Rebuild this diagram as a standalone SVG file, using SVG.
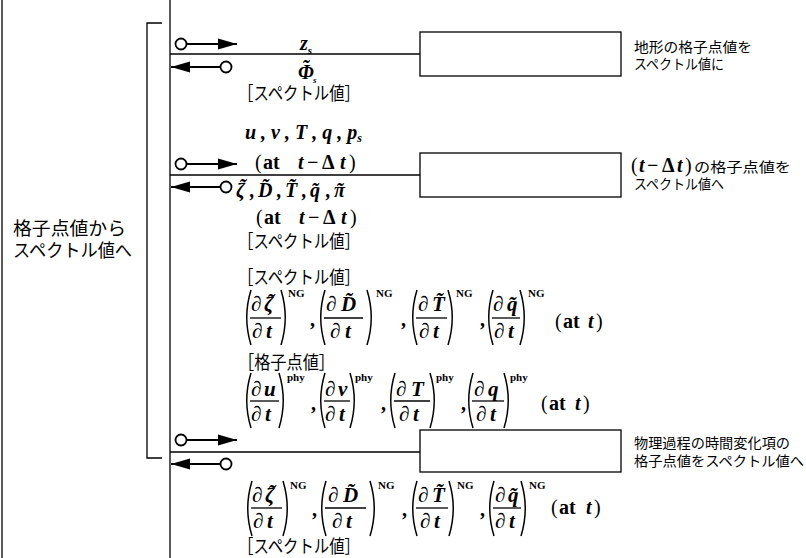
<svg xmlns="http://www.w3.org/2000/svg" width="806" height="558" viewBox="0 0 806 558">
<style>
.ln{stroke:#000;stroke-width:1.3;fill:none}
.bx{stroke:#000;stroke-width:1.3;fill:#fff}
.ar{stroke:#000;stroke-width:2;fill:none;marker-start:url(#dot);marker-end:url(#head)}
.pr{stroke:#000;stroke-width:1.5;fill:none}
.m{font-family:"Liberation Serif",serif;font-style:italic;font-weight:bold;font-size:20px}
.f{font-family:"Liberation Serif",serif;font-style:italic;font-weight:bold;font-size:21px}
.mu{font-family:"Liberation Serif",serif;font-weight:bold;font-size:20px}
.rg{font-family:"Liberation Serif",serif;font-size:20px}
.sup{font-family:"Liberation Serif",serif;font-weight:bold;font-size:11px}
.j{font-family:"Noto Sans CJK JP",sans-serif;font-size:18px}
.js{font-family:"Noto Sans CJK JP",sans-serif;font-size:14px}
</style>
<defs>
<marker id="head" markerUnits="userSpaceOnUse" markerWidth="20" markerHeight="12" refX="19" refY="6" orient="auto"><path d="M0,0.5 L19,6 L0,11.5z" fill="#000"/></marker>
<marker id="dot" markerUnits="userSpaceOnUse" markerWidth="14" markerHeight="14" refX="7" refY="7" orient="auto"><circle cx="7" cy="7" r="5.5" fill="#fff" stroke="#000" stroke-width="1.8"/></marker>
<path id="lp" d="M7,0 Q-1.5,27.5 7,55"/>
<path id="rp" d="M0,0 Q8.5,27.5 0,55"/>
</defs>
<rect width="806" height="558" fill="#fff"/>

<g id="connectors">
<line class="ln" x1="2" y1="0" x2="2" y2="558"/>
<line class="ln" x1="170" y1="0" x2="170" y2="558"/>
<path class="ln" d="M162,23 H147 V458 H162"/>
<line class="ln" x1="170" y1="54" x2="420" y2="54"/>
<line class="ln" x1="170" y1="175" x2="420" y2="175"/>
<line class="ln" x1="170" y1="452" x2="420" y2="452"/>
<path class="ar" d="M181,44 L237,44"/>
<path class="ar" d="M226,67 L171,67"/>
<path class="ar" d="M181,164 L237,164"/>
<path class="ar" d="M226,187 L171,187"/>
<path class="ar" d="M181,440 L237,440"/>
<path class="ar" d="M226,464 L171,464"/>
</g>

<g id="label-left">
<text class="j" x="13" y="235" textLength="113" lengthAdjust="spacingAndGlyphs">格子点値から</text>
<text class="j" x="13" y="257" textLength="119" lengthAdjust="spacingAndGlyphs">スペクトル値へ</text>
</g>

<g id="node-topo">
<rect class="bx" x="420" y="32" width="201" height="44"/>
<text class="js" x="634" y="52" textLength="118" lengthAdjust="spacingAndGlyphs">地形の格子点値を</text>
<text class="js" x="634" y="69" textLength="90" lengthAdjust="spacingAndGlyphs">スペクトル値に</text>
</g>

<g id="node-prev">
<rect class="bx" x="420" y="153" width="201" height="44"/>
<text y="172"><tspan class="rg" x="631" font-size="22">(</tspan><tspan class="m" x="639" font-size="22">t</tspan><tspan class="mu" x="647" font-size="22">−</tspan><tspan class="mu" x="662" font-size="22">Δ</tspan><tspan class="m" x="677" font-size="22">t</tspan><tspan class="rg" x="685" font-size="22">)</tspan><tspan class="js" x="694" textLength="97" lengthAdjust="spacingAndGlyphs">の格子点値を</tspan></text>
<text class="js" x="634" y="189" textLength="90" lengthAdjust="spacingAndGlyphs">スペクトル値へ</text>
</g>

<g id="node-phy">
<rect class="bx" x="420" y="430" width="201" height="42"/>
<text class="js" x="634" y="448" textLength="156" lengthAdjust="spacingAndGlyphs">物理過程の時間変化項の</text>
<text class="js" x="634" y="466" textLength="170" lengthAdjust="spacingAndGlyphs">格子点値をスペクトル値へ</text>
</g>

<g id="labels-1">
<text class="m" x="300" y="50">z<tspan font-size="11" dy="4">s</tspan></text>
<text class="m" y="79"><tspan x="298">Φ</tspan><tspan x="302" dy="-5">˜</tspan><tspan x="313" dy="9" font-size="9">s</tspan></text>
<text class="j" x="238" y="100" textLength="122" lengthAdjust="spacingAndGlyphs">［スペクトル値］</text>
</g>

<g id="labels-2">
<text class="m" x="245" y="139">u , v , T , q , p<tspan font-size="12" dy="3">s</tspan></text>
<text y="169"><tspan class="rg" x="255">(</tspan><tspan class="mu" x="263">at</tspan><tspan class="m" x="298">t</tspan><tspan class="mu" x="307">−</tspan><tspan class="mu" x="322">Δ</tspan><tspan class="m" x="340">t</tspan><tspan class="rg" x="349">)</tspan></text>
<text class="m" y="197"><tspan x="236">ζ</tspan><tspan x="239" dy="-4">˜</tspan><tspan x="250" dy="4">,</tspan><tspan x="258">D&#x303;</tspan><tspan x="277">,</tspan><tspan x="285">T&#x303;</tspan><tspan x="302">,</tspan><tspan x="310">q&#x303;</tspan><tspan x="326">,</tspan><tspan x="334">π</tspan><tspan x="336">˜</tspan></text>
<text y="224"><tspan class="rg" x="256">(</tspan><tspan class="mu" x="264">at</tspan><tspan class="m" x="299">t</tspan><tspan class="mu" x="308">−</tspan><tspan class="mu" x="323">Δ</tspan><tspan class="m" x="341">t</tspan><tspan class="rg" x="350">)</tspan></text>
<text class="j" x="238" y="248" textLength="122" lengthAdjust="spacingAndGlyphs">［スペクトル値］</text>
</g>

<g id="labels-3">
<text class="j" x="238" y="284" textLength="122" lengthAdjust="spacingAndGlyphs">［スペクトル値］</text>
<use class="pr" href="#lp" x="244" y="290"/>
<text class="f" y="311"><tspan x="251">∂</tspan><tspan x="264">ζ</tspan><tspan x="267" dy="-3">˜</tspan></text>
<line class="ln" x1="250" y1="318" x2="281" y2="318"/>
<text class="f" y="338"><tspan x="252">∂</tspan><tspan x="266">t</tspan></text>
<use class="pr" href="#rp" x="281" y="290"/>
<text class="sup" x="288" y="297">NG</text>
<text class="mu" x="310" y="326">,</text>
<use class="pr" href="#lp" x="318" y="290"/>
<text class="f" y="311"><tspan x="326">∂</tspan><tspan x="341">D&#x303;</tspan></text>
<line class="ln" x1="324" y1="318" x2="363" y2="318"/>
<text class="f" y="338"><tspan x="330">∂</tspan><tspan x="345">t</tspan></text>
<use class="pr" href="#rp" x="367" y="290"/>
<text class="sup" x="376" y="297">NG</text>
<text class="mu" x="401" y="326">,</text>
<use class="pr" href="#lp" x="410" y="290"/>
<text class="f" y="311"><tspan x="418">∂</tspan><tspan x="432">T&#x303;</tspan></text>
<line class="ln" x1="416" y1="318" x2="447" y2="318"/>
<text class="f" y="338"><tspan x="419">∂</tspan><tspan x="433">t</tspan></text>
<use class="pr" href="#rp" x="448" y="290"/>
<text class="sup" x="456" y="297">NG</text>
<text class="mu" x="480" y="326">,</text>
<use class="pr" href="#lp" x="486" y="290"/>
<text class="f" y="311"><tspan x="493">∂</tspan><tspan x="507">q&#x303;</tspan></text>
<line class="ln" x1="492" y1="318" x2="520" y2="318"/>
<text class="f" y="338"><tspan x="494">∂</tspan><tspan x="508">t</tspan></text>
<use class="pr" href="#rp" x="520" y="290"/>
<text class="sup" x="528" y="297">NG</text>
<text y="328"><tspan class="rg" x="555">(</tspan><tspan class="mu" x="563">at</tspan><tspan class="m" x="588">t</tspan><tspan class="rg" x="596">)</tspan></text>
</g>

<g id="labels-4">
<text class="j" x="238" y="369" textLength="97" lengthAdjust="spacingAndGlyphs">［格子点値］</text>
<use class="pr" href="#lp" x="244" y="373"/>
<text class="f" y="396"><tspan x="251">∂</tspan><tspan x="264">u</tspan></text>
<line class="ln" x1="250" y1="401" x2="279" y2="401"/>
<text class="f" y="421"><tspan x="251">∂</tspan><tspan x="265">t</tspan></text>
<use class="pr" href="#rp" x="279" y="373"/>
<text class="sup" x="287" y="381">phy</text>
<text class="mu" x="311" y="410">,</text>
<use class="pr" href="#lp" x="318" y="373"/>
<text class="f" y="396"><tspan x="325">∂</tspan><tspan x="338">v</tspan></text>
<line class="ln" x1="324" y1="401" x2="350" y2="401"/>
<text class="f" y="421"><tspan x="325">∂</tspan><tspan x="339">t</tspan></text>
<use class="pr" href="#rp" x="350" y="373"/>
<text class="sup" x="355" y="381">phy</text>
<text class="mu" x="381" y="410">,</text>
<use class="pr" href="#lp" x="388" y="373"/>
<text class="f" y="396"><tspan x="396">∂</tspan><tspan x="411">T</tspan></text>
<line class="ln" x1="394" y1="401" x2="430" y2="401"/>
<text class="f" y="421"><tspan x="399">∂</tspan><tspan x="413">t</tspan></text>
<use class="pr" href="#rp" x="430" y="373"/>
<text class="sup" x="436" y="381">phy</text>
<text class="mu" x="461" y="410">,</text>
<use class="pr" href="#lp" x="466" y="373"/>
<text class="f" y="396"><tspan x="474">∂</tspan><tspan x="488">q</tspan></text>
<line class="ln" x1="472" y1="401" x2="504" y2="401"/>
<text class="f" y="421"><tspan x="476">∂</tspan><tspan x="490">t</tspan></text>
<use class="pr" href="#rp" x="504" y="373"/>
<text class="sup" x="510" y="381">phy</text>
<text y="410"><tspan class="rg" x="541">(</tspan><tspan class="mu" x="549">at</tspan><tspan class="m" x="575">t</tspan><tspan class="rg" x="583">)</tspan></text>
</g>

<g id="labels-5">
<use class="pr" href="#lp" x="245" y="481"/>
<text class="f" y="502"><tspan x="252">∂</tspan><tspan x="265">ζ</tspan><tspan x="268" dy="-3">˜</tspan></text>
<line class="ln" x1="251" y1="508" x2="282" y2="508"/>
<text class="f" y="528"><tspan x="253">∂</tspan><tspan x="267">t</tspan></text>
<use class="pr" href="#rp" x="283" y="481"/>
<text class="sup" x="290" y="489">NG</text>
<text class="mu" x="312" y="516">,</text>
<use class="pr" href="#lp" x="319" y="481"/>
<text class="f" y="502"><tspan x="328">∂</tspan><tspan x="343">D&#x303;</tspan></text>
<line class="ln" x1="325" y1="508" x2="366" y2="508"/>
<text class="f" y="528"><tspan x="332">∂</tspan><tspan x="346">t</tspan></text>
<use class="pr" href="#rp" x="370" y="481"/>
<text class="sup" x="378" y="489">NG</text>
<text class="mu" x="402" y="516">,</text>
<use class="pr" href="#lp" x="410" y="481"/>
<text class="f" y="502"><tspan x="418">∂</tspan><tspan x="432">T&#x303;</tspan></text>
<line class="ln" x1="416" y1="508" x2="448" y2="508"/>
<text class="f" y="528"><tspan x="420">∂</tspan><tspan x="434">t</tspan></text>
<use class="pr" href="#rp" x="449" y="481"/>
<text class="sup" x="457" y="489">NG</text>
<text class="mu" x="480" y="516">,</text>
<use class="pr" href="#lp" x="487" y="481"/>
<text class="f" y="502"><tspan x="495">∂</tspan><tspan x="508">q&#x303;</tspan></text>
<line class="ln" x1="493" y1="508" x2="521" y2="508"/>
<text class="f" y="528"><tspan x="495">∂</tspan><tspan x="509">t</tspan></text>
<use class="pr" href="#rp" x="521" y="481"/>
<text class="sup" x="529" y="489">NG</text>
<text y="514"><tspan class="rg" x="551">(</tspan><tspan class="mu" x="559">at</tspan><tspan class="m" x="586">t</tspan><tspan class="rg" x="594">)</tspan></text>
<text class="j" x="238" y="553" textLength="122" lengthAdjust="spacingAndGlyphs">［スペクトル値］</text>
</g>
</svg>
